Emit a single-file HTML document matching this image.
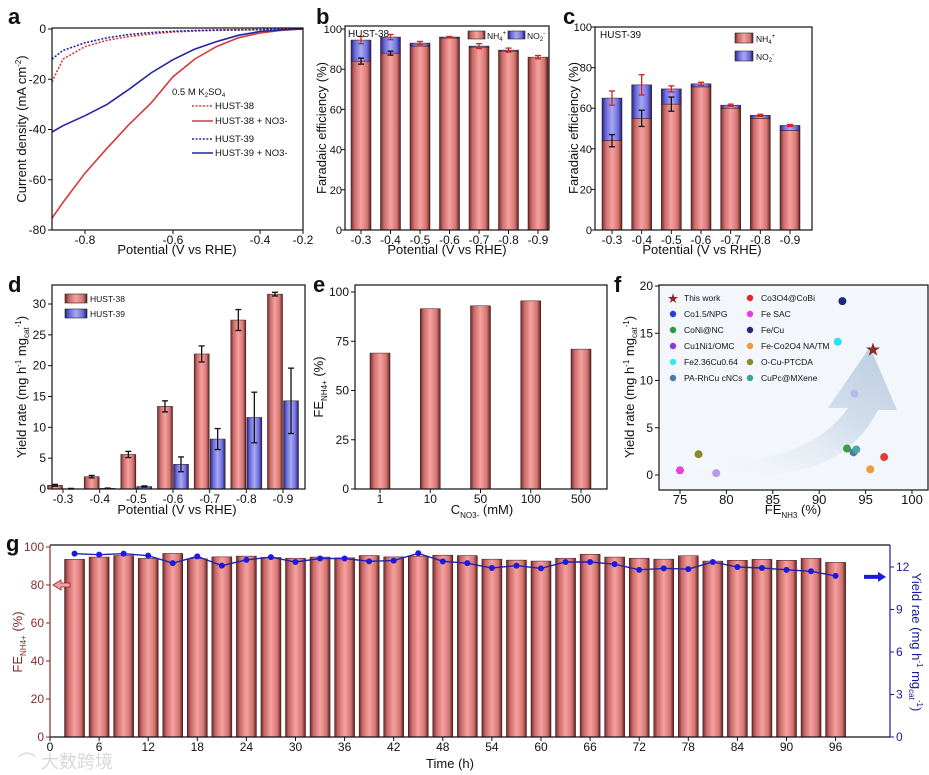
<!DOCTYPE html>
<html><head><meta charset="utf-8"><style>
html,body{margin:0;padding:0;background:#fff;}
svg{display:block;font-family:"Liberation Sans","Noto Sans CJK SC",sans-serif;}
text{fill:#111;}
</style></head><body>
<svg id="fig" width="929" height="775" viewBox="0 0 929 775">
<defs>
<linearGradient id="gRed" x1="0" x2="1" y1="0" y2="0"><stop offset="0" stop-color="#6e2a2a"/><stop offset="0.18" stop-color="#c96a6a"/><stop offset="0.5" stop-color="#f7a19f"/><stop offset="0.82" stop-color="#d27572"/><stop offset="1" stop-color="#5a2020"/></linearGradient>
<linearGradient id="gBlue" x1="0" x2="1" y1="0" y2="0"><stop offset="0" stop-color="#22227a"/><stop offset="0.2" stop-color="#6a6ad8"/><stop offset="0.5" stop-color="#a8a8f4"/><stop offset="0.8" stop-color="#6f6fdc"/><stop offset="1" stop-color="#1c1c70"/></linearGradient>
<linearGradient id="gArrow" x1="0" y1="1" x2="1" y2="0"><stop offset="0" stop-color="#ffffff" stop-opacity="0.2"/><stop offset="0.6" stop-color="#cfdcea"/><stop offset="1" stop-color="#b4c6dc"/></linearGradient>
</defs>
<g font-weight="bold" font-size="22">
<text x="8" y="24">a</text>
<text x="316" y="24">b</text>
<text x="563" y="24">c</text>
<text x="8" y="292">d</text>
<text x="313" y="292">e</text>
<text x="614" y="292">f</text>
<text x="6" y="551">g</text>
</g>
<g font-size="13">
<text x="177" y="254" text-anchor="middle">Potential (V vs RHE)</text>
<text transform="translate(26,129) rotate(-90)" text-anchor="middle">Current density (mA cm<tspan font-size="8" dy="-5">-2</tspan><tspan dy="5">)</tspan></text>
<text x="447" y="254" text-anchor="middle">Potential (V vs RHE)</text>
<text transform="translate(326,128) rotate(-90)" text-anchor="middle">Faradaic efficiency (%)</text>
<text x="702" y="254" text-anchor="middle">Potential (V vs RHE)</text>
<text transform="translate(578,128) rotate(-90)" text-anchor="middle">Faradaic efficiency (%)</text>
<text x="177" y="514" text-anchor="middle">Potential (V vs RHE)</text>
<text transform="translate(26,387) rotate(-90)" text-anchor="middle">Yield rate (mg h<tspan font-size="8" dy="-5">-1</tspan><tspan dy="5"> mg</tspan><tspan font-size="8" dy="3">cat</tspan><tspan font-size="8" dy="-8">-1</tspan><tspan dy="5">)</tspan></text>
<text x="482" y="514" text-anchor="middle">C<tspan font-size="8" dy="4">NO3-</tspan><tspan dy="-4"> (mM)</tspan></text>
<text transform="translate(323,387) rotate(-90)" text-anchor="middle">FE<tspan font-size="8" dy="4">NH4+</tspan><tspan dy="-4"> (%)</tspan></text>
<text x="793" y="514" text-anchor="middle">FE<tspan font-size="8" dy="4">NH3</tspan><tspan dy="-4"> (%)</tspan></text>
<text transform="translate(634,387) rotate(-90)" text-anchor="middle">Yield rate (mg h<tspan font-size="8" dy="-5">-1</tspan><tspan dy="5"> mg</tspan><tspan font-size="8" dy="3">cat</tspan><tspan font-size="8" dy="-8">-1</tspan><tspan dy="5">)</tspan></text>
<text x="450" y="768" text-anchor="middle">Time (h)</text>
<text transform="translate(22,642) rotate(-90)" text-anchor="middle" style="fill:#8b2a2a">FE<tspan font-size="8" dy="4">NH4+</tspan><tspan dy="-4"> (%)</tspan></text>
<text transform="translate(912,642) rotate(90)" text-anchor="middle" style="fill:#1a1aa0">Yield rae (mg h<tspan font-size="8" dy="-5">-1</tspan><tspan dy="5"> mg</tspan><tspan font-size="8" dy="3">cat</tspan><tspan font-size="8" dy="-8">-1</tspan><tspan dy="5">)</tspan></text>
</g>
<text x="18" y="768" font-size="18" style="fill:#d8d8d8">⌒ 大数跨境</text>
</svg>
<script>
const NS='http://www.w3.org/2000/svg';
const svg=document.getElementById('fig');
function mk(tag,attrs,parent){const e=document.createElementNS(NS,tag);for(const k in attrs)e.setAttribute(k,attrs[k]);(parent||svg).appendChild(e);return e;}
function tx(s,x,y,attrs,parent){const e=mk('text',Object.assign({x:x,y:y},attrs||{}),parent);e.textContent=s;return e;}
function lin(d0,d1,r0,r1){return v=>r0+(v-d0)*(r1-r0)/(d1-d0);}
function pw(ds,rs){return v=>{for(let i=0;i<ds.length-1;i++){const a=ds[i],b=ds[i+1];if((v-a)*(v-b)<=0||i===ds.length-2)return rs[i]+(v-a)*(rs[i+1]-rs[i])/(b-a);}return rs[0];};}

// ---------- DATA ----------
const aPot=[-0.875,-0.85,-0.8,-0.75,-0.7,-0.65,-0.6,-0.55,-0.5,-0.45,-0.4,-0.3,-0.2];
const aH38N=[-75.3,-69,-57.4,-47.5,-38,-29.5,-19,-12,-7,-3.5,-1.6,-0.5,0];
const aH39N=[-41,-38.5,-34.5,-30,-24,-17.5,-12.2,-8,-5,-2.5,-1,-0.3,0];
const aH38=[-21,-12,-7,-4.5,-3,-2,-1.2,-0.8,-0.5,-0.4,-0.3,-0.1,0];
const aH39=[-12,-8.5,-5.5,-3.5,-2.2,-1.4,-0.9,-0.6,-0.4,-0.3,-0.2,-0.1,0];
const aXTicks=[-0.8,-0.6,-0.4,-0.2];
const aYTicks=[0,-20,-40,-60,-80];
const potCats=['-0.3','-0.4','-0.5','-0.6','-0.7','-0.8','-0.9'];
const bNH4=[84,88,91.5,95.5,91,89,86];
const bTotal=[94.5,96,93,96,91.5,89.5,86];
const bNH4Err=[1.5,1,1,0.5,1.5,1.8,1.3];
const bTotErr=[1.8,1.3,0.8,0.3,1.2,1,0.8];
const cNH4=[44,55,62,70.5,60,55,49];
const cTotal=[65,71.5,69.5,72,61.5,56.5,51.5];
const cNH4Err=[3,4,3.5,1.2,0.8,1,2];
const cTotErr=[3.5,5,1.5,0.8,0.5,0.5,0.5];
const feTicks=[0,20,40,60,80,100];
const dH38=[0.6,2.0,5.6,13.4,21.9,27.4,31.6];
const dH38Err=[0.15,0.2,0.5,0.9,1.3,1.7,0.3];
const dH39=[0.05,0.1,0.4,4.0,8.1,11.6,14.3];
const dH39Err=[0.05,0.05,0.1,1.2,1.7,4.1,5.3];
const dTicks=[0,5,10,15,20,25,30];
const eCats=['1','10','50','100','500'];
const eVals=[69,91.5,93,95.5,71];
const eTicks=[0,25,50,75,100];
const fNames=['This work','Co1.5/NPG','CoNi@NC','Cu1Ni1/OMC','Fe2.36Cu0.64','PA-RhCu cNCs','Co3O4@CoBi','Fe SAC','Fe/Cu','Fe-Co2O4 NA/TM','O-Cu-PTCDA','CuPc@MXene'];
const fFE=[95.8,93.8,93,78.9,92,93.7,97,75,92.5,95.5,77,94];
const fYield=[13.3,8.6,2.8,0.2,14.1,2.4,1.9,0.5,18.4,0.6,2.2,2.7];
const fColors=['#8b2a2a','#b8b8ee','#3c9a4c','#b99ae8','#33e0ea','#5578a6','#e03c3c','#e640e0','#1e2a78','#ee9a40','#8a8a2a','#4aa8a8'];
const fLegendColors=['#8b2a2a','#2a3ad8','#2a9a3c','#8a3ad8','#33e8f0','#4a78b0','#e02828','#e83ae8','#1e2a78','#ee9a40','#8a8a2a','#3aa0a0'];
const fXTicks=[75,80,85,90,95,100];
const fYTicks=[0,5,10,15,20];
const gTimes=[3,6,9,12,15,18,21,24,27,30,33,36,39,42,45,48,51,54,57,60,63,66,69,72,75,78,81,84,87,90,93,96];
const gFE=[93.5,94.7,95.5,94,96.6,93.8,94.8,95.2,94.5,94.1,94.7,94.3,95.5,94.8,95.2,95.7,95.5,93.6,93.1,92.6,94.1,96.2,94.7,94.1,93.6,95.4,92.6,93,93.5,93,94,91.9];
const gYield=[12.94,12.87,12.94,12.8,12.27,12.75,12.1,12.5,12.7,12.35,12.6,12.6,12.4,12.45,12.97,12.4,12.27,11.93,12.1,11.9,12.35,12.35,12.2,11.8,11.9,11.85,12.35,12.0,11.93,11.8,11.7,11.37];
const gXTicks=[0,6,12,18,24,30,36,42,48,54,60,66,72,78,84,90,96];
const gLTicks=[0,20,40,60,80,100];
const gRTicks=[0,3,6,9,12];

// ---------- helpers ----------
function frame(L,T,R,B,name,col){const r=mk('rect',{x:L,y:T,width:R-L,height:B-T,fill:'none',stroke:col||'#111','stroke-width':1.2});

return r;}
function yAxis(ticks,ys,x,side,name,col,fs,off){const g=mk('g',{});


const o=off||6;
ticks.forEach(t=>{const y=ys(t);mk('line',{x1:x,x2:x+(side<0?-4:4),y1:y,y2:y,stroke:col||'#111','stroke-width':1},g);
const l=tx(String(t),x+(side<0?-o:o),y+4,{'font-size':fs||12,'text-anchor':side<0?'end':'start',style:'fill:'+(col||'#111')},g);

});return g;}
function xAxis(labels,xs,y,name,fs){const g=mk('g',{});


labels.forEach((t,i)=>{const x=xs(t,i);mk('line',{x1:x,x2:x,y1:y,y2:y+4,stroke:'#111','stroke-width':1},g);
const l=tx(String(t),x,y+14,{'font-size':fs||12,'text-anchor':'middle'},g);

});return g;}
function bar(x,w,y0,y1,fill,name,parent){const r=mk('rect',{x:x-w/2,y:Math.min(y0,y1),width:w,height:Math.abs(y1-y0),fill:fill,stroke:'#3a1010','stroke-width':0.5},parent);

return r;}
function err(x,yl,yh,col,name,parent){const g=mk('g',{stroke:col,'stroke-width':1.3},parent);


mk('line',{x1:x,x2:x,y1:yl,y2:yh},g);mk('line',{x1:x-3,x2:x+3,y1:yl,y2:yl},g);mk('line',{x1:x-3,x2:x+3,y1:yh,y2:yh},g);}

// ---------- panel a ----------
(function(){const L=52,R=303,T=28,B=230;
const xs=pw([-0.875,-0.8,-0.6,-0.4,-0.2],[52,85,173,260,303]);const ys=lin(0,-80,29,230);
const series=[[aH38,'#d23a3a','2,1.6','curve-hust38'],[aH38N,'#d23a3a','','curve-hust38-no3'],[aH39,'#2424a8','2,1.6','curve-hust39'],[aH39N,'#2424a8','','curve-hust39-no3']];
series.forEach(s=>{const d=aPot.map((p,i)=>(i?'L':'M')+xs(p).toFixed(1)+','+ys(s[0][i]).toFixed(1)).join('');
const p=mk('path',{d:d,fill:'none',stroke:s[1],'stroke-width':1.6,'stroke-dasharray':s[2]});

});
frame(L,T,R,B,'a-plot-frame');
yAxis(aYTicks,ys,L,-1,'a-y-axis');
xAxis(aXTicks,t=>xs(t),B,'a-x-axis');
const lg=mk('g',{'font-size':9.5});


const h=tx('',172,95,{},lg);h.innerHTML='0.5 M K<tspan font-size="6" dy="2">2</tspan><tspan dy="-2">SO</tspan><tspan font-size="6" dy="2">4</tspan>';
const ents=[['HUST-38','#d23a3a','2,1.6',109],['HUST-38 + NO3-','#d23a3a','',124],['HUST-39','#2424a8','2,1.6',142],['HUST-39 + NO3-','#2424a8','',156]];
ents.forEach(e=>{const gi=mk('g',{},lg);


mk('line',{x1:192,x2:213,y1:e[3]-3,y2:e[3]-3,stroke:e[1],'stroke-width':1.6,'stroke-dasharray':e[2]},gi);tx(e[0],215,e[3],{},gi);});
})();

// ---------- panels b,c ----------
function stacked(L,T,R,B,x0,x1,NH,TOT,NHe,TOe,ytop,pre){
const xs=lin(0,6,x0,x1);const ys=lin(0,100,B,ytop);
const g=mk('g',{});


potCats.forEach((c,i)=>{const x=xs(i);bar(x,20,ys(0),ys(NH[i]),'url(#gRed)',pre+'-bar-nh4',g);
if(TOT[i]>NH[i]+0.2)bar(x,20,ys(NH[i]),ys(TOT[i]),'url(#gBlue)',pre+'-bar-no2',g);
err(x,ys(TOT[i]-TOe[i]),ys(TOT[i]+TOe[i]),'#d42020',pre+'-error-total',g);
if(TOT[i]-NH[i]>3)err(x,ys(NH[i]-NHe[i]),ys(NH[i]+NHe[i]),'#111',pre+'-error-nh4',g);});
frame(L,T,R,B,pre+'-plot-frame');
yAxis(feTicks,ys,L,-1,pre+'-y-axis','#111',11,3);
xAxis(potCats,(t,i)=>xs(i),B,pre+'-x-axis');}
stacked(345,26,549,230,361,538,bNH4,bTotal,bNH4Err,bTotErr,29,'b');
stacked(595,27,812,230,612,790,cNH4,cTotal,cNH4Err,cTotErr,27,'c');
function swatch(x,y,w,h,fill,label,lx,ly,name){const g=mk('g',{'font-size':8.5});


mk('rect',{x:x,y:y,width:w,height:h,fill:fill,stroke:'#222','stroke-width':0.6},g);const t=tx('',lx,ly,{},g);t.innerHTML=label;}
const nh4='NH<tspan font-size="6" dy="2">4</tspan><tspan font-size="6" dy="-6">+</tspan>';
const no2='NO<tspan font-size="6" dy="2">2</tspan><tspan font-size="6" dy="-6">-</tspan>';
tx('HUST-38',348,37,{'font-size':10});
swatch(468,31,17,8,'url(#gRed)',nh4,487,39,'b-legend-nh4');
swatch(508,31,17,8,'url(#gBlue)',no2,527,39,'b-legend-no2');
tx('HUST-39',600,38,{'font-size':10});
swatch(735,33,18,10,'url(#gRed)',nh4,756,42,'c-legend-nh4');
swatch(735,51,18,10,'url(#gBlue)',no2,756,60,'c-legend-no2');

// ---------- panel d ----------
(function(){const L=52,R=305,T=285,B=489;const xs=lin(0,6,63,283);const ys=lin(0,30,489,304);
const g=mk('g',{});


potCats.forEach((c,i)=>{const x=xs(i);
bar(x-8,15,ys(0),ys(dH38[i]),'url(#gRed)','d-bar-hust38',g);
bar(x+8,15,ys(0),ys(dH39[i]),'url(#gBlue)','d-bar-hust39',g);
err(x-8,ys(dH38[i]-dH38Err[i]),ys(dH38[i]+dH38Err[i]),'#111','d-error-hust38',g);
err(x+8,ys(dH39[i]-dH39Err[i]),ys(dH39[i]+dH39Err[i]),'#111','d-error-hust39',g);});
frame(L,T,R,B,'d-plot-frame');yAxis(dTicks,ys,L,-1,'d-y-axis');xAxis(potCats,(t,i)=>xs(i),B,'d-x-axis');
swatch(65,294,22,9,'url(#gRed)','HUST-38',90,302,'d-legend-hust38');
swatch(65,309,22,9,'url(#gBlue)','HUST-39',90,317,'d-legend-hust39');})();

// ---------- panel e ----------
(function(){const L=355,R=607,T=285,B=489;const xs=lin(0,4,380,581);const ys=lin(0,100,489,292);
const g=mk('g',{});


eCats.forEach((c,i)=>bar(xs(i),20,ys(0),ys(eVals[i]),'url(#gRed)','e-bar-'+c,g));
frame(L,T,R,B,'e-plot-frame');yAxis(eTicks,ys,L,-1,'e-y-axis');xAxis(eCats,(t,i)=>xs(i),B,'e-x-axis');})();

// ---------- panel f ----------
(function(){const L=659,R=928,T=285,B=490;const xs=lin(75,100,680,912);const ys=lin(0,20,475,286);
const bg=mk('rect',{x:L,y:T,width:R-L,height:B-T,fill:'#f3f7fb'});


const ar=mk('path',{d:'M668,458 Q800,475 848,408 L828,408 L870,347 L897,410 L878,410 Q830,505 668,458 Z',fill:'url(#gArrow)',opacity:0.9});


const pg=mk('g',{});


fNames.forEach((n,i)=>{if(i===0)return;const c=mk('circle',{cx:xs(fFE[i]),cy:ys(fYield[i]),r:4,fill:fColors[i]},pg);

});
const st=tx('★',xs(fFE[0]),ys(fYield[0])+5,{'font-size':15,'text-anchor':'middle',style:'fill:#8b2a2a'},pg);


frame(L,T,R,B,'f-plot-frame');yAxis(fYTicks,ys,L,-1,'f-y-axis');xAxis(fXTicks,t=>xs(t),B,'f-x-axis',13);
const lg=mk('g',{'font-size':8.5});


const rows=[298,314,330,346,362,378];
fNames.forEach((n,i)=>{const col=i<6?0:1,r=i%6;const mx=col?750:673,y=rows[r];
const e=mk('g',{},lg);


if(i===0)tx('★',mx,y+4,{'font-size':11,'text-anchor':'middle',style:'fill:#8b2a2a'},e);else mk('circle',{cx:mx,cy:y,r:3.2,fill:fLegendColors[i]},e);
tx(n,mx+11,y+3,{},e);});})();

// ---------- panel g ----------
(function(){const L=50,R=890,T=545,B=737;const xs=lin(0,6,50,99.1);const yl=lin(0,100,737,547);const yr=lin(0,12,737,567);
const g=mk('g',{});


gTimes.forEach((t,i)=>bar(xs(t),20,yl(0),yl(gFE[i]),'url(#gRed)','g-bar-fe',g));
const d=gTimes.map((t,i)=>(i?'L':'M')+xs(t).toFixed(1)+','+yr(gYield[i]).toFixed(1)).join('');
const ln=mk('path',{d:d,fill:'none',stroke:'#2222aa','stroke-width':1.4});


const pg=mk('g',{});


gTimes.forEach((t,i)=>{const c=mk('circle',{cx:xs(t),cy:yr(gYield[i]),r:3,fill:'#1a1ae0'},pg);

});
mk('line',{x1:L,x2:R,y1:T,y2:T,stroke:'#111','stroke-width':1.2});
mk('line',{x1:L,x2:R,y1:B,y2:B,stroke:'#111','stroke-width':1.2});
mk('line',{x1:L,x2:L,y1:T,y2:B,stroke:'#8b2a2a','stroke-width':1.2});
mk('line',{x1:R,x2:R,y1:T,y2:B,stroke:'#1a1aa0','stroke-width':1.2});
yAxis(gLTicks,yl,L,-1,'g-left-axis','#8b2a2a');
yAxis(gRTicks,yr,R,1,'g-right-axis','#1a1aa0');
xAxis(gXTicks,t=>xs(t),B,'g-x-axis');
const la=mk('path',{d:'M53,'+yl(80)+' l8,-5 v3 h9 v4 h-9 v3 z',fill:'#f4a0a0',stroke:'#8b2a2a','stroke-width':0.8});


const ra=mk('path',{d:'M864,'+(yr(11.3)-2)+' h14 v-3 l8,5 l-8,5 v-3 h-14 z',fill:'#1a1ae0'});

})();
</script>
</body></html>
